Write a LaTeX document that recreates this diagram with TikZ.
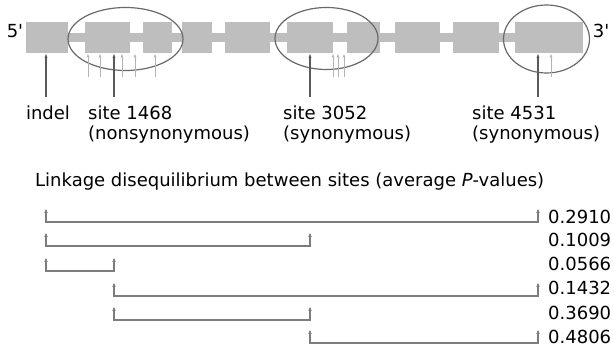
\documentclass[tikz,border=0pt]{standalone}
\usepackage{fontspec}
\setmainfont{DejaVu Sans}
\usetikzlibrary{arrows.meta,shapes.geometric}
\definecolor{exon}{RGB}{190,190,190}
\definecolor{ellc}{RGB}{105,105,105}
\definecolor{arrc}{RGB}{90,90,90}
\definecolor{faintc}{RGB}{180,180,180}
\definecolor{brkc}{RGB}{125,125,125}
\begin{document}
\begin{tikzpicture}[x=1pt,y=-1pt,
  exonbox/.style={fill=exon, draw=none, minimum height=31pt, inner sep=0pt, outer sep=0pt},
  intron/.style={draw=exon, line width=9pt},
  circ/.style={ellipse, draw=ellc, line width=1.2pt, inner sep=0pt},
  mainarrow/.style={draw=arrc, line width=1.2pt, -{Stealth[length=4pt,width=3pt]}},
  faintarrow/.style={draw=faintc, line width=1pt, -{Stealth[length=4pt,width=3pt]}},
  bracket/.style={draw=brkc, line width=1.4pt, {Stealth[length=4pt,width=3.5pt]}-{Stealth[length=4pt,width=3.5pt]}},
  lbl/.style={font=\fontsize{18}{20}\selectfont, inner sep=0pt},
]
\useasboundingbox (0,0) rectangle (614,352);
% exons
\node[exonbox, minimum width=42pt] (e1) at (47,37.5) {};
\node[exonbox, minimum width=45pt] (e2) at (107.5,37.5) {};
\node[exonbox, minimum width=29pt] (e3) at (157.5,37.5) {};
\node[exonbox, minimum width=30pt] (e4) at (197,37.5) {};
\node[exonbox, minimum width=45pt] (e5) at (247.5,37.5) {};
\node[exonbox, minimum width=46pt] (e6) at (310,37.5) {};
\node[exonbox, minimum width=33pt] (e7) at (363.5,37.5) {};
\node[exonbox, minimum width=45pt] (e8) at (417.5,37.5) {};
\node[exonbox, minimum width=46pt] (e9) at (476,37.5) {};
\node[exonbox, minimum width=68pt] (e10) at (549,37.5) {};
% introns
\foreach \a/\b in {e1/e2,e2/e3,e3/e4,e4/e5,e5/e6,e6/e7,e7/e8,e8/e9,e9/e10}
  \draw[intron] (\a.east) -- (\b.west);
% ellipses
\node[circ, minimum width=115pt, minimum height=63pt] (c1) at (125.5,39) {};
\node[circ, minimum width=103pt, minimum height=62pt] (c2) at (326.5,38.5) {};
\node[circ, minimum width=86pt, minimum height=68pt] (c3) at (546.5,39) {};
% ends
\node[lbl] (p5) at (15,31) {5\textquotesingle};
\node[lbl] (p3) at (601,31) {3\textquotesingle};
% faint arrows
\foreach \x [count=\i] in {88,100,122,135,155,333,338,344,551} {
  \coordinate (ft\i) at (\x,77);
  \coordinate (fh\i) at (\x,54);
  \draw[faintarrow] (ft\i) -- (fh\i);
}
% main arrows
\foreach \x/\n in {46/A,114/B,310/C,538/D} {
  \coordinate (mt\n) at (\x,97);
  \coordinate (mh\n) at (\x,54);
  \draw[mainarrow] (mt\n) -- (mh\n);
}
% labels
\node[lbl] (indel) at (48,113) {indel};
\node[lbl, anchor=west] (s1) at (88,113) {site 1468};
\node[lbl, anchor=west] (s1b) at (88,135) {(nonsynonymous)};
\node[lbl, anchor=west] (s2) at (283,113) {site 3052};
\node[lbl, anchor=west] (s2b) at (283,135) {(synonymous)};
\node[lbl, anchor=west] (s3) at (472,113) {site 4531};
\node[lbl, anchor=west] (s3b) at (472,135) {(synonymous)};
% title
\node[lbl, anchor=west] (title) at (35,182) {Linkage disequilibrium between sites (average \textit{P}-values)};
% brackets
\foreach \xa/\xb/\yh/\yl/\v [count=\r] in {
  46/538/222/217/0.2910,
  46/310/246/240/0.1009,
  46/114/271/264/0.0566,
  114/538/296/288/0.1432,
  114/310/320/313/0.3690,
  310/538/343/337/0.4806} {
  \coordinate (bl\r) at (\xa,\yh-13);
  \coordinate (br\r) at (\xb,\yh-13);
  \draw[bracket] (bl\r) -- ++(0,13) -| (br\r);
  \node[lbl, anchor=west] (v\r) at (548,\yl) {\v};
}
\end{tikzpicture}
\end{document}
